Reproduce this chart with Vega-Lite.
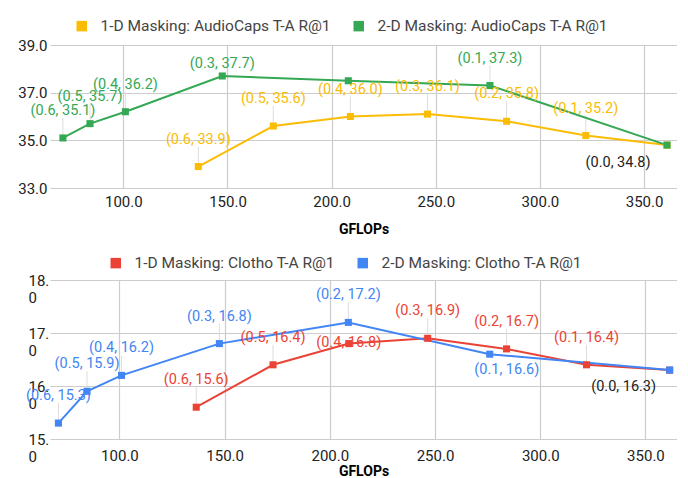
{
  "$schema": "https://vega.github.io/schema/vega-lite/v6.json",
  "padding": {"top": 18, "left": 0, "right": 0, "bottom": 0},
  "spacing": 19,
  "config": {
    "font": "Roboto",
    "view": {"stroke": null},
    "axis": {
      "grid": true,
      "gridColor": "#cccccc",
      "gridWidth": 1.2,
      "domain": false,
      "ticks": false,
      "tickSize": 0,
      "labelFontSize": 15,
      "labelColor": "#222222",
      "titleFontSize": 14,
      "titleFontWeight": "bold",
      "titleColor": "#000000"
    },
    "legend": {
      "orient": "none",
      "direction": "horizontal",
      "symbolType": "square",
      "symbolSize": 110,
      "symbolStrokeWidth": 0,
      "labelFontSize": 15.5,
      "labelColor": "#444444",
      "labelOffset": 11,
      "labelLimit": 0,
      "columnPadding": 20
    }
  },
  "datasets": {
    "ac": [
      {"series": "1-D Masking: AudioCaps T-A R@1", "gflops": 136, "r1": 33.9, "label": "(0.6, 33.9)"},
      {"series": "1-D Masking: AudioCaps T-A R@1", "gflops": 172, "r1": 35.6, "label": "(0.5, 35.6)"},
      {"series": "1-D Masking: AudioCaps T-A R@1", "gflops": 209, "r1": 36.0, "label": "(0.4, 36.0)"},
      {"series": "1-D Masking: AudioCaps T-A R@1", "gflops": 246, "r1": 36.1, "label": "(0.3, 36.1)"},
      {"series": "1-D Masking: AudioCaps T-A R@1", "gflops": 284, "r1": 35.8, "label": "(0.2, 35.8)"},
      {"series": "1-D Masking: AudioCaps T-A R@1", "gflops": 322, "r1": 35.2, "label": "(0.1, 35.2)"},
      {"series": "1-D Masking: AudioCaps T-A R@1", "gflops": 361, "r1": 34.8, "label": ""},
      {"series": "2-D Masking: AudioCaps T-A R@1", "gflops": 71, "r1": 35.1, "label": "(0.6, 35.1)"},
      {"series": "2-D Masking: AudioCaps T-A R@1", "gflops": 84, "r1": 35.7, "label": "(0.5, 35.7)"},
      {"series": "2-D Masking: AudioCaps T-A R@1", "gflops": 101, "r1": 36.2, "label": "(0.4, 36.2)"},
      {"series": "2-D Masking: AudioCaps T-A R@1", "gflops": 147.5, "r1": 37.7, "label": "(0.3, 37.7)"},
      {"series": "2-D Masking: AudioCaps T-A R@1", "gflops": 208, "r1": 37.5, "label": ""},
      {"series": "2-D Masking: AudioCaps T-A R@1", "gflops": 276, "r1": 37.3, "label": "(0.1, 37.3)"},
      {"series": "2-D Masking: AudioCaps T-A R@1", "gflops": 361, "r1": 34.8, "label": "(0.0, 34.8)"}
    ],
    "cl": [
      {"series": "1-D Masking: Clotho T-A R@1", "gflops": 136.5, "r1": 15.6, "label": "(0.6, 15.6)"},
      {"series": "1-D Masking: Clotho T-A R@1", "gflops": 173, "r1": 16.4, "label": "(0.5, 16.4)"},
      {"series": "1-D Masking: Clotho T-A R@1", "gflops": 209, "r1": 16.8, "label": "(0.4, 16.8)"},
      {"series": "1-D Masking: Clotho T-A R@1", "gflops": 246.5, "r1": 16.9, "label": "(0.3, 16.9)"},
      {"series": "1-D Masking: Clotho T-A R@1", "gflops": 284, "r1": 16.7, "label": "(0.2, 16.7)"},
      {"series": "1-D Masking: Clotho T-A R@1", "gflops": 322, "r1": 16.4, "label": "(0.1, 16.4)"},
      {"series": "1-D Masking: Clotho T-A R@1", "gflops": 361.5, "r1": 16.3, "label": ""},
      {"series": "2-D Masking: Clotho T-A R@1", "gflops": 71, "r1": 15.3, "label": "(0.6, 15.3)"},
      {"series": "2-D Masking: Clotho T-A R@1", "gflops": 84.6, "r1": 15.9, "label": "(0.5, 15.9)"},
      {"series": "2-D Masking: Clotho T-A R@1", "gflops": 101, "r1": 16.2, "label": "(0.4, 16.2)"},
      {"series": "2-D Masking: Clotho T-A R@1", "gflops": 147.5, "r1": 16.8, "label": "(0.3, 16.8)"},
      {"series": "2-D Masking: Clotho T-A R@1", "gflops": 208.8, "r1": 17.2, "label": "(0.2, 17.2)"},
      {"series": "2-D Masking: Clotho T-A R@1", "gflops": 276, "r1": 16.6, "label": "(0.1, 16.6)"},
      {"series": "2-D Masking: Clotho T-A R@1", "gflops": 361.5, "r1": 16.3, "label": "(0.0, 16.3)"}
    ]
  },
  "resolve": {"scale": {"color": "independent", "x": "independent", "y": "independent"}, "legend": {"color": "independent"}},
  "vconcat": [
    {
      "width": 627,
      "height": 143,
      "data": {"name": "ac"},
      "encoding": {
        "x": {"field": "gflops", "type": "quantitative", "scale": {"domain": [64.8, 365.8], "nice": false, "zero": false},
              "axis": {"values": [100, 150, 200, 250, 300, 350], "format": ".1f", "title": "GFLOPs", "labelPadding": 6, "titlePadding": 13}},
        "y": {"field": "r1", "type": "quantitative", "scale": {"domain": [33, 39], "nice": false, "zero": false},
              "axis": {"values": [33, 35, 37, 39], "labelExpr": "format(datum.value, '.1f')", "labelAlign": "right", "labelLineHeight": 17, "labelPadding": 3, "title": null, "minExtent": 50, "maxExtent": 50}}
      },
      "layer": [
        {
          "transform": [{"filter": "datum.label != '' && datum.label != '(0.3, 37.7)' && datum.label != '(0.0, 34.8)'"}],
          "mark": {"type": "rule", "color": "#dddddd", "strokeWidth": 1, "y2Offset": -20},
          "encoding": {"y2": {"field": "r1"}}
        },
        {
          "mark": {"type": "line", "strokeWidth": 2, "point": {"shape": "square", "size": 50, "filled": true}},
          "encoding": {
            "color": {"field": "series", "type": "nominal",
                      "scale": {"domain": ["1-D Masking: AudioCaps T-A R@1", "2-D Masking: AudioCaps T-A R@1"], "range": ["#fbbc04", "#34a853"]},
                      "legend": {"title": null, "legendX": 24, "legendY": -27}}
          }
        },
        {
          "transform": [{"filter": "datum.label != '' && datum.label != '(0.3, 37.7)' && datum.label != '(0.0, 34.8)'"}],
          "mark": {"type": "text", "fontSize": 14.5, "dy": -27},
          "encoding": {"text": {"field": "label"}, "color": {"field": "series", "type": "nominal"}}
        },
        {
          "transform": [{"filter": "datum.label == '(0.3, 37.7)'"}],
          "mark": {"type": "text", "fontSize": 14.5, "dy": -12},
          "encoding": {"text": {"field": "label"}, "color": {"field": "series", "type": "nominal"}}
        },
        {
          "transform": [{"filter": "datum.label == '(0.0, 34.8)'"}],
          "mark": {"type": "text", "fontSize": 14.5, "dx": -49, "dy": 18, "color": "#222222"},
          "encoding": {"text": {"field": "label"}}
        }
      ]
    },
    {
      "width": 627,
      "height": 159,
      "data": {"name": "cl"},
      "encoding": {
        "x": {"field": "gflops", "type": "quantitative", "scale": {"domain": [67, 365], "nice": false, "zero": false},
              "axis": {"values": [100, 150, 200, 250, 300, 350], "format": ".1f", "title": "GFLOPs", "labelPadding": 9, "titlePadding": 1}},
        "y": {"field": "r1", "type": "quantitative", "scale": {"domain": [15, 18], "nice": false, "zero": false},
              "axis": {"values": [15, 16, 17, 18], "labelExpr": "[floor(datum.value) + '.', '0']", "labelAlign": "left", "labelLineHeight": 17, "labelPadding": 22, "title": null, "minExtent": 49, "maxExtent": 49}}
      },
      "layer": [
        {
          "transform": [{"filter": "datum.label != '' && datum.label != '(0.4, 16.8)' && datum.label != '(0.1, 16.6)' && datum.label != '(0.0, 16.3)'"}],
          "mark": {"type": "rule", "color": "#dddddd", "strokeWidth": 1, "y2Offset": -20},
          "encoding": {"y2": {"field": "r1"}}
        },
        {
          "mark": {"type": "line", "strokeWidth": 2, "point": {"shape": "square", "size": 50, "filled": true}},
          "encoding": {
            "color": {"field": "series", "type": "nominal",
                      "scale": {"domain": ["1-D Masking: Clotho T-A R@1", "2-D Masking: Clotho T-A R@1"], "range": ["#ea4335", "#4285f4"]},
                      "legend": {"title": null, "legendX": 58, "legendY": -25}}
          }
        },
        {
          "transform": [{"filter": "datum.label != '' && datum.label != '(0.4, 16.8)' && datum.label != '(0.1, 16.6)' && datum.label != '(0.0, 16.3)'"}],
          "mark": {"type": "text", "fontSize": 14.5, "dy": -27},
          "encoding": {"text": {"field": "label"}, "color": {"field": "series", "type": "nominal"}}
        },
        {
          "transform": [{"filter": "datum.label == '(0.4, 16.8)'"}],
          "mark": {"type": "text", "fontSize": 14.5, "dy": -1},
          "encoding": {"text": {"field": "label"}, "color": {"field": "series", "type": "nominal"}}
        },
        {
          "transform": [{"filter": "datum.label == '(0.1, 16.6)'"}],
          "mark": {"type": "text", "fontSize": 14.5, "dx": 17, "dy": 16},
          "encoding": {"text": {"field": "label"}, "color": {"field": "series", "type": "nominal"}}
        },
        {
          "transform": [{"filter": "datum.label == '(0.0, 16.3)'"}],
          "mark": {"type": "text", "fontSize": 14.5, "dx": -46, "dy": 17, "color": "#222222"},
          "encoding": {"text": {"field": "label"}}
        }
      ]
    }
  ]
}
